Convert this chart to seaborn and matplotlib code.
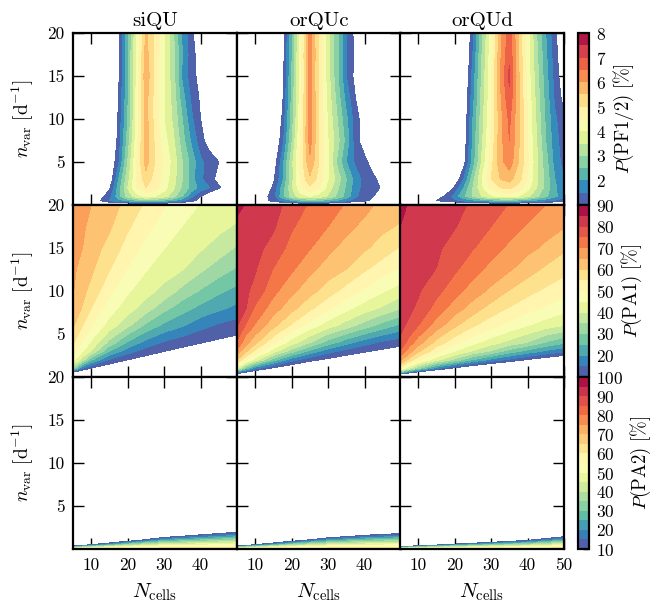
import numpy as np
import matplotlib
matplotlib.use("Agg")
import matplotlib.pyplot as plt
from matplotlib.ticker import FixedLocator, FixedFormatter
import seaborn as sns

# ---------------- data ----------------
model_names = ["siQU", "orQUc", "orQUd"]
row_labels = [r"$P(\mathrm{PF1/2})\ [\%]$", r"$P(\mathrm{PA1})\ [\%]$", r"$P(\mathrm{PA2})\ [\%]$"]

# Row 1: P(PF1/2) [%]  -- rows over nvar, columns over Ncells
pf_ncells = [5, 10, 15, 17.5, 20, 22.5, 25, 27.5, 30, 32.5, 35, 37.5, 40, 42.5, 45, 47.5, 50]
pf_nvar = [0, 0.5, 1, 2, 3, 5, 7.5, 10, 12.5, 15, 17.5, 20]
pf_siQU = [
    [0, 0, 0, 0, 0, 0, 0, 0, 0, 0, 0, 0, 0, 0, 0, 0, 0],
    [0, 0.5, 1.5, 1.8, 2.1, 2.4, 2.6, 2.5, 2.3, 2.0, 1.6, 1.2, 0.8, 0.4, 0, 0, 0],
    [0, 0.3, 1.3, 2.3, 3.2, 3.8, 4.1, 4.0, 3.7, 3.2, 2.5, 1.6, 1.0, 0.5, 0, 0, 0],
    [0, 0, 0.9, 2.2, 3.5, 4.5, 5.0, 4.7, 4.2, 3.6, 2.9, 2.3, 1.8, 1.5, 1.1, 0.6, 0],
    [0, 0, 0.5, 2.0, 3.3, 4.5, 5.3, 4.8, 4.3, 3.7, 3.0, 2.2, 1.6, 1.2, 0.8, 0.2, 0],
    [0, 0, 0.4, 1.4, 3.0, 4.5, 5.7, 5.0, 4.4, 3.8, 3.0, 2.3, 1.6, 1.3, 1.0, 0.3, 0],
    [0, 0, 0.1, 1.2, 2.7, 4.3, 5.8, 4.9, 4.2, 3.6, 2.7, 1.9, 1.2, 0.7, 0.3, 0, 0],
    [0, 0, 0, 1.1, 2.5, 4.2, 5.7, 4.8, 4.0, 3.4, 2.5, 1.6, 1.0, 0.5, 0, 0, 0],
    [0, 0, 0, 1.0, 2.4, 4.2, 5.7, 4.8, 4.0, 3.3, 2.2, 1.4, 0.9, 0.4, 0, 0, 0],
    [0, 0, 0, 0.9, 2.4, 4.1, 5.9, 4.8, 4.0, 3.2, 1.9, 1.2, 0.8, 0.3, 0, 0, 0],
    [0, 0, 0, 0.9, 2.4, 4.1, 5.7, 4.9, 4.0, 3.1, 2.0, 1.2, 0.7, 0.3, 0, 0, 0],
    [0, 0, 0, 0.8, 2.3, 4.0, 5.6, 4.9, 4.0, 3.1, 1.9, 1.1, 0.6, 0.3, 0, 0, 0],
]
pf_orQUc = [
    [0, 0, 0, 0, 0, 0, 0, 0, 0, 0, 0, 0, 0, 0, 0, 0, 0],
    [0, 0.5, 1.2, 1.6, 1.9, 2.3, 2.5, 2.4, 2.2, 1.9, 1.6, 1.3, 1.1, 0.9, 0.4, 0, 0],
    [0, 0.3, 1.3, 2.3, 3.2, 3.8, 4.0, 3.8, 3.4, 2.9, 2.3, 1.6, 1.2, 1.0, 0.7, 0, 0],
    [0, 0, 1.1, 2.2, 3.4, 4.4, 4.9, 4.5, 3.8, 3.1, 2.4, 1.7, 1.3, 1.1, 0.95, 0.2, 0],
    [0, 0, 0.9, 1.9, 3.3, 4.6, 5.4, 4.8, 4.0, 3.3, 2.5, 1.8, 1.3, 1.1, 0.8, 0.2, 0],
    [0, 0, 0.6, 1.8, 3.3, 4.7, 5.9, 5.0, 4.0, 2.9, 2.0, 1.4, 1.15, 0.7, 0.2, 0, 0],
    [0, 0, 0.3, 1.3, 2.9, 4.6, 6.2, 5.0, 4.0, 3.2, 2.3, 1.2, 0.7, 0.3, 0, 0, 0],
    [0, 0, 0.1, 1.1, 2.7, 4.4, 6.3, 5.0, 3.9, 3.0, 2.1, 1.2, 0.7, 0.3, 0, 0, 0],
    [0, 0, 0, 0.9, 2.6, 4.3, 6.3, 4.9, 3.8, 2.8, 1.8, 1.0, 0.5, 0.2, 0, 0, 0],
    [0, 0, 0, 0.8, 2.5, 4.3, 6.2, 4.9, 3.7, 2.6, 1.5, 0.8, 0.3, 0, 0, 0, 0],
    [0, 0, 0, 0.7, 2.4, 4.3, 6.3, 4.9, 3.7, 2.6, 1.5, 0.9, 0.4, 0, 0, 0, 0],
    [0, 0, 0, 0.7, 2.3, 4.2, 6.2, 4.9, 3.7, 2.6, 1.5, 0.8, 0.3, 0, 0, 0, 0],
]
pf_orQUd = [
    [0, 0, 0, 0, 0, 0, 0, 0, 0, 0, 0, 0, 0, 0, 0, 0, 0],
    [0, 0.3, 1.0, 1.2, 1.4, 1.6, 1.8, 2.0, 2.2, 2.3, 2.3, 2.2, 2.0, 1.8, 1.6, 1.4, 1.2],
    [0, 0, 0.7, 1.1, 1.7, 2.4, 3.0, 3.5, 3.9, 4.1, 4.2, 4.0, 3.6, 3.1, 2.6, 2.1, 1.7],
    [0, 0, 0, 0.4, 1.1, 2.0, 3.0, 3.9, 4.6, 5.0, 5.1, 4.8, 4.2, 3.5, 2.8, 2.1, 1.6],
    [0, 0, 0, 0, 0.5, 1.5, 2.8, 4.0, 5.0, 5.5, 5.7, 5.2, 4.5, 3.6, 2.8, 2.0, 1.5],
    [0, 0, 0, 0, 0.2, 0.8, 2.2, 3.6, 4.8, 5.8, 6.3, 5.5, 4.6, 3.6, 2.7, 1.8, 1.3],
    [0, 0, 0, 0, 0, 0.6, 2.1, 3.4, 4.6, 5.8, 6.5, 5.6, 4.5, 3.5, 2.5, 1.7, 1.2],
    [0, 0, 0, 0, 0, 0.5, 2.0, 3.3, 4.5, 5.8, 6.6, 5.6, 4.5, 3.4, 2.4, 1.6, 1.1],
    [0, 0, 0, 0, 0, 0.4, 1.8, 3.2, 4.4, 5.9, 6.9, 5.6, 4.4, 3.3, 2.3, 1.4, 0.8],
    [0, 0, 0, 0, 0, 0.3, 1.7, 3.1, 4.4, 6.0, 7.1, 5.6, 4.3, 3.2, 2.2, 1.3, 0.6],
    [0, 0, 0, 0, 0, 0.1, 1.5, 3.0, 4.3, 5.9, 6.9, 5.5, 4.2, 3.1, 2.1, 1.2, 0.5],
    [0, 0, 0, 0, 0, 0, 1.4, 2.9, 4.2, 5.8, 6.8, 5.5, 4.2, 3.0, 2.0, 1.1, 0.5],
]

# Row 2: P(PA1) [%]  -- each inner list is one Ncells column over nvar
pa1_ncells = [5, 7.5, 10, 15, 20, 25, 30, 35, 40, 45, 50]
pa1_nvar = [0, 0.5, 1, 2, 3, 4, 6, 8, 10, 12.5, 15, 17.5, 20]
pa1_siQU = [
    [-15, 7.5, 32.5, 47.5, 52.1, 55.9, 60.8, 63.5, 65.3, 65.9, 66.6, 67.3, 68],
    [-8.8, 3.1, 15, 37.9, 45.6, 49.3, 55.3, 59.7, 61.5, 63.4, 65.1, 65.9, 66.5],
    [-5.8, 1.8, 9.5, 25.9, 39.5, 44.2, 50.2, 54.9, 58.5, 60.9, 62.3, 63.6, 65],
    [-3.9, 0.7, 5.3, 14.4, 24.7, 33.3, 42.8, 47.3, 51.1, 55.2, 58.3, 60.7, 62],
    [-3, 0.3, 3.5, 10, 17.2, 24.2, 36.2, 42.2, 45.7, 49.7, 52.9, 55.8, 58.5],
    [-2.5, 0, 2.5, 7.6, 12.6, 18.3, 28.9, 37.6, 41.9, 45.3, 48.5, 51.5, 54.1],
    [-2.3, -0.2, 1.9, 6.0, 10.1, 14.3, 23.8, 31.6, 38.5, 42.3, 45.1, 47.8, 50.4],
    [-2.1, -0.3, 1.4, 4.9, 8.4, 11.9, 20.5, 27.0, 33.4, 40.2, 42.5, 44.9, 47.5],
    [-1.8, -0.3, 1.2, 4.2, 7.2, 10.2, 16.8, 23.6, 29.5, 35.9, 40.7, 42.7, 44.7],
    [-1.7, -0.4, 0.9, 3.6, 6.2, 8.9, 14.2, 21.1, 26.0, 32.3, 37.8, 41.3, 43.4],
    [-1.7, -0.5, 0.7, 3.1, 5.5, 7.9, 12.6, 18.6, 23.5, 29.3, 34.4, 39.4, 42],
]
pa1_orQUc = [
    [-10, 15, 41.7, 60, 68.1, 74.4, 80.3, 81, 81.7, 82.6, 83.5, 84.5, 85.5],
    [-8.6, 7.5, 26.5, 50.7, 60.8, 66.6, 74.2, 80, 80.8, 81.8, 82.8, 83.8, 84.8],
    [-7.9, 3.9, 16.4, 42.2, 53.9, 61.2, 69.5, 74.1, 78.5, 80.4, 81.4, 82.6, 83.8],
    [-7.3, 0.5, 8.3, 27.3, 42.3, 50.9, 61.5, 67.4, 71.4, 74.7, 78.4, 80.6, 81.6],
    [-6.9, -1.2, 4.6, 16.9, 32.3, 42.4, 54.2, 61.7, 66.2, 70.7, 73.1, 75.6, 78.3],
    [-6.7, -2.2, 2.4, 11.6, 23.6, 35.1, 47.8, 56.2, 61.8, 66.3, 70.3, 72.3, 74.3],
    [-6.6, -2.8, 1.0, 8.6, 17.1, 27.7, 42.4, 51.0, 57.5, 62.6, 66.4, 70, 72],
    [-6.5, -3.3, 0.2, 6.7, 13.0, 21.9, 37.7, 46.4, 52.9, 59.9, 63.2, 66.4, 69.6],
    [-6.5, -3.6, -0.8, 5.1, 10.6, 17.1, 32.7, 42.5, 49.2, 55.6, 60.8, 63.7, 66.7],
    [-6.4, -3.9, -1.4, 3.7, 8.8, 13.8, 27.9, 39.1, 45.5, 52.2, 57.7, 61.2, 63.3],
    [-6.4, -4.1, -1.8, 2.7, 7.3, 11.8, 23.8, 35.4, 42.5, 49.2, 54.4, 59.4, 62],
]
pa1_orQUd = [
    [-25, 25, 51.2, 67, 74.4, 79.5, 80.7, 81.5, 82.2, 83.1, 84, 85, 86],
    [-24, 12.2, 40.1, 58.4, 67.3, 72.6, 79.4, 80.7, 81.4, 82.3, 83.0, 83.8, 84.6],
    [-23, 5, 30.5, 51.6, 61.1, 67.4, 75.1, 79.3, 80.5, 81.4, 82.3, 83.1, 84],
    [-22, -2.8, 16.5, 41.6, 51.7, 58.1, 67.6, 73, 76.6, 79.9, 80.8, 81.6, 82.5],
    [-22, -7, 8, 33.3, 45, 51.7, 61, 67.6, 71.9, 75.8, 78.2, 80.3, 81.2],
    [-21.7, -9.6, 2.6, 24.8, 39.4, 46.6, 55.7, 62.7, 67.7, 71.9, 75.3, 77.3, 79.4],
    [-21, -11.3, -1.1, 18.5, 34.3, 42.2, 51.8, 58.0, 63.9, 68.5, 72, 75, 77.1],
    [-21, -12.6, -3.8, 13.8, 27.8, 38.3, 48.4, 54.7, 59.7, 65.6, 69.1, 72, 74.7],
    [-21, -13.5, -5.8, 9.6, 23.2, 34.7, 45.2, 51.8, 56.6, 62.1, 66.5, 69.6, 72.3],
    [-21, -14, -7.4, 6.4, 19.2, 29.4, 42.3, 49.4, 54.0, 59.0, 64.0, 67.2, 70],
    [-21, -15, -8.8, 3.75, 16, 25.8, 40, 46.8, 51.8, 56.6, 60.9, 65.3, 67.5],
]

# Row 3: P(PA2) [%]  -- each inner list is one Ncells column over nvar
pa2_ncells = [5, 10, 20, 30, 40, 50]
pa2_nvar = [0, 0.5, 1, 1.5, 2, 2.5, 20]
pa2_siQU = [
    [65, -13.6, -20, -20, -20, -20, -20],
    [65, 10.5, -20, -20, -20, -20, -20],
    [65, 34.4, 3.9, -20, -20, -20, -20],
    [65, 44.6, 24.3, 3.9, -20, -20, -20],
    [65, 48.3, 31.7, 15, -1.7, -20, -20],
    [65, 50.9, 36.8, 22.7, 8.6, -5.5, -20],
]
pa2_orQUc = [
    [65, -13.6, -20, -20, -20, -20, -20],
    [65, 10.5, -20, -20, -20, -20, -20],
    [65, 34.4, 3.9, -20, -20, -20, -20],
    [65, 43.8, 22.7, 1.5, -20, -20, -20],
    [65, 47.8, 30.6, 13.4, -3.8, -20, -20],
    [65, 49.7, 34.4, 19.2, 3.9, -11.4, -20],
]
pa2_orQUd = [
    [65, -36.9, -20, -20, -20, -20, -20],
    [65, -7.4, -20, -20, -20, -20, -20],
    [65, 16.8, -31.5, -20, -20, -20, -20],
    [65, 29.7, -5.5, -20, -20, -20, -20],
    [65, 37.5, 10, -17.5, -20, -20, -20],
    [65, 45.8, 26.5, 7.3, -20, -20, -20],
]

pf_levels = [1 + 0.5 * i for i in range(15)]      # 1 ... 8
pa1_levels = [10 + 5 * i for i in range(17)]      # 10 ... 90
pa2_levels = [10 + 5 * i for i in range(19)]      # 10 ... 100
pf_cbar_ticks = [2, 3, 4, 5, 6, 7, 8]
pa1_cbar_ticks = [20, 30, 40, 50, 60, 70, 80, 90]
pa2_cbar_ticks = [10, 20, 30, 40, 50, 60, 70, 80, 90, 100]
x_ticks = [10, 20, 30, 40, 50]
y_ticks = [5, 10, 15, 20]

# ---------------- style ----------------
sns.set_style("ticks")
plt.rcParams.update({
    "font.family": "serif",
    "font.serif": ["cmr10", "DejaVu Serif"],
    "mathtext.fontset": "cm",
    "axes.formatter.use_mathtext": True,
    "axes.unicode_minus": False,
    "axes.linewidth": 1.6,
    "axes.edgecolor": "black",
    "xtick.color": "black",
    "ytick.color": "black",
    "text.color": "black",
    "axes.labelcolor": "black",
})
cmap = sns.color_palette("Spectral_r", as_cmap=True)

rows = [
    (pf_ncells, pf_nvar, [pf_siQU, pf_orQUc, pf_orQUd], False, pf_levels, pf_cbar_ticks),
    (pa1_ncells, pa1_nvar, [pa1_siQU, pa1_orQUc, pa1_orQUd], True, pa1_levels, pa1_cbar_ticks),
    (pa2_ncells, pa2_nvar, [pa2_siQU, pa2_orQUc, pa2_orQUd], True, pa2_levels, pa2_cbar_ticks),
]

W, H = 654, 610
fig = plt.figure(figsize=(W / 100, H / 100), dpi=100)
col_left = [73, 237, 400]
row_top = [33, 205, 377]
pw, ph = 164, 172

for r, (xs, ys, fields, by_column, levels, cticks) in enumerate(rows):
    for c in range(3):
        ax = fig.add_axes([col_left[c] / W, 1 - (row_top[r] + ph) / H, pw / W, ph / H])
        Z = np.array(fields[c], dtype=float)
        if by_column:
            Z = Z.T
        cs = ax.contourf(np.array(xs), np.array(ys), Z, levels=levels, cmap=cmap)
        ax.set_xlim(5, 50)
        ax.set_ylim(0, 20)
        ax.xaxis.set_major_locator(FixedLocator(x_ticks))
        ax.yaxis.set_major_locator(FixedLocator(y_ticks))
        ax.tick_params(direction="in", top=True, right=True, length=8, width=1.0,
                       labelsize=12.5, pad=6, color="black")
        if r == 2:
            xl = ["10", "20", "30", "40", "50" if c == 2 else ""]
            ax.xaxis.set_major_formatter(FixedFormatter(xl))
            ax.set_xlabel(r"$N_{\mathrm{cells}}$", fontsize=15, labelpad=6)
        else:
            ax.set_xticklabels([])
        if c == 0:
            ax.yaxis.set_major_formatter(FixedFormatter(["5", "10", "15", "20"]))
            ax.set_ylabel(r"$n_{\mathrm{var}}\ [\mathrm{d}^{-1}]$", fontsize=14, labelpad=8)
        else:
            ax.set_yticklabels([])
        if r == 0:
            ax.set_title(model_names[c], fontsize=15, pad=5)
        for s in ax.spines.values():
            s.set_linewidth(1.6)
            s.set_edgecolor("black")
    cax = fig.add_axes([578 / W, 1 - (row_top[r] + ph) / H, 11 / W, ph / H])
    cb = fig.colorbar(cs, cax=cax, ticks=cticks)
    cb.outline.set_linewidth(1.6)
    cb.outline.set_edgecolor("black")
    cax.tick_params(direction="in", length=4, width=1.0, labelsize=12.5, pad=5, color="black")
    cb.set_label(row_labels[r], fontsize=13.5, labelpad=4)

fig.savefig("out.png", dpi=100)
